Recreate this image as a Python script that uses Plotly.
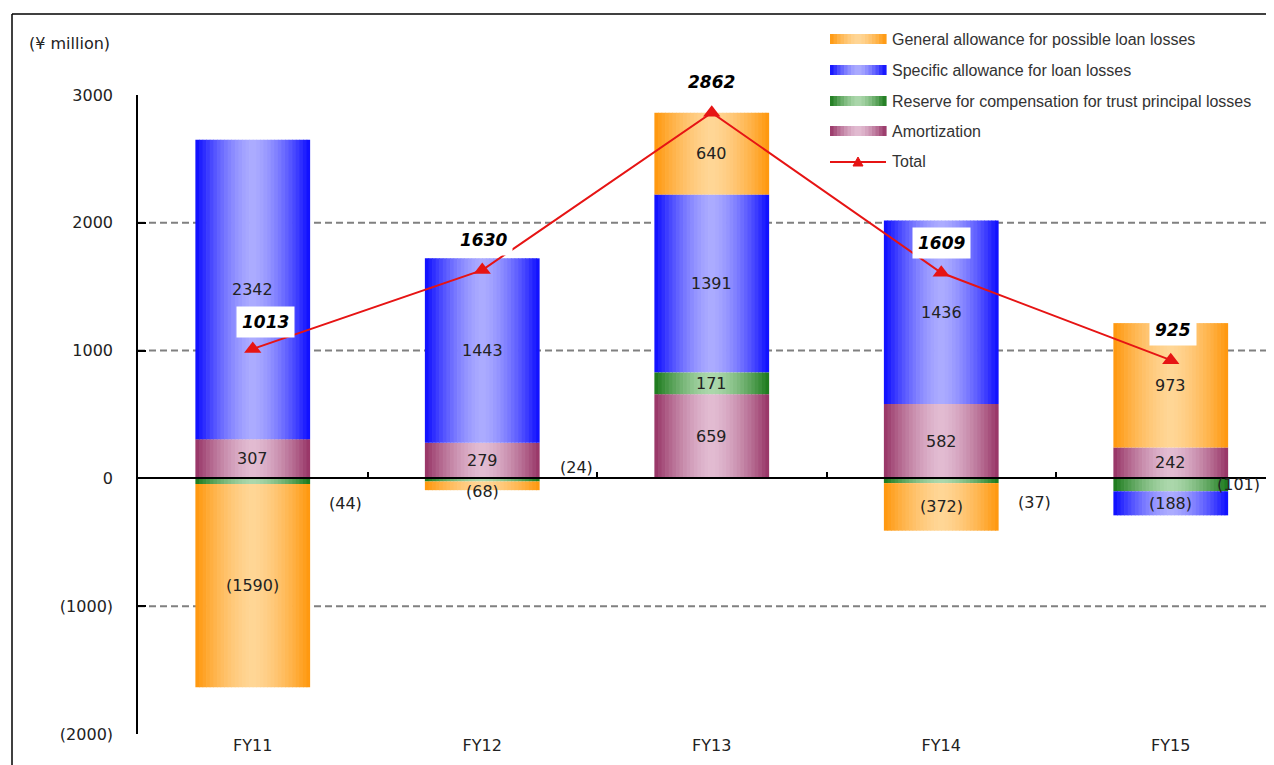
import plotly.graph_objects as go

# ---------------- data ----------------
categories = ["FY11", "FY12", "FY13", "FY14", "FY15"]
general = [-1590, -68, 640, -372, 973]
specific = [2342, 1443, 1391, 1436, -188]
reserve = [-44, -24, 171, -37, -101]
amortization = [307, 279, 659, 582, 242]
total = [1013, 1630, 2862, 1609, 925]

y_tickvals = [3000, 2000, 1000, 0, -1000, -2000]
y_ticktext = ["3000", "2000", "1000", "0", "(1000)", "(2000)"]
grid_values = [2000, 1000, -1000]

name_general = "General allowance for possible loan losses"
name_specific = "Specific allowance for loan losses"
name_reserve = "Reserve for compensation for trust principal losses"
name_amort = "Amortization"
name_total = "Total"
unit_label = "(¥ million)"

# ---------------- geometry helpers ----------------
OFF = 8                      # page body margin
W, H = 1274 - OFF, 765 - OFF
L, R, T, B = 138 - OFF, 0, 95 - OFF, 31
PW, PH = W - L - R, H - T - B
CAT_PX = 229.5


def px(x):  # screen x -> paper
    return (x - OFF - L) / PW


def py(y):  # screen y -> paper
    return (H - B - (y - OFF)) / PH


def fmt(v):
    return f"({abs(v)})" if v < 0 else f"{v}"


def lerp(c1, c2, t):
    return "rgb(%d,%d,%d)" % tuple(round(a + (b - a) * t) for a, b in zip(c1, c2))


FONT = "DejaVu Sans"
TXT = "#222222"
RED = "rgb(230,20,20)"

styles = {
    name_general: ((255, 150, 10), (255, 214, 150)),
    name_specific: ((10, 10, 255), (172, 172, 255)),
    name_reserve: ((25, 120, 25), (172, 216, 172)),
    name_amort: ((150, 50, 100), (226, 188, 210)),
}

stack_order = [
    (name_amort, amortization),
    (name_reserve, reserve),
    (name_specific, specific),
    (name_general, general),
]

# compute stacking bases
pos = [0] * len(categories)
neg = [0] * len(categories)
bases = {}
for name, vals in stack_order:
    b = []
    for i, v in enumerate(vals):
        if v >= 0:
            b.append(pos[i])
            pos[i] += v
        else:
            b.append(neg[i])
            neg[i] += v
    bases[name] = b

fig = go.Figure()

BAR_W = 0.5
N = 32
sw = BAR_W / N
for name, vals in stack_order:
    edge, center = styles[name]
    for k in range(N):
        u = (k + 0.5) / N
        t = abs(2 * u - 1) ** 1.5
        fig.add_trace(go.Bar(
            x=categories, y=vals, base=bases[name],
            offset=-BAR_W / 2 + k * sw,
            width=sw * 1.2 if k < N - 1 else sw,
            marker=dict(color=lerp(center, edge, t), line=dict(width=0)),
            showlegend=False, hoverinfo="skip",
        ))

# total line on overlaying axis (which also draws the zero line)
fig.add_trace(go.Scatter(
    x=categories, y=total, xaxis="x2", yaxis="y", name=name_total,
    mode="lines+markers",
    line=dict(color=RED, width=2),
    marker=dict(symbol="triangle-up", size=15, color=RED),
    showlegend=False, hoverinfo="skip",
))

annotations = []
shapes = []

# segment value labels
label_shift = {
    (name_reserve, 0): (93, -22),
    (name_reserve, 1): (94, 12),
    (name_reserve, 3): (93, -22),
    (name_reserve, 4): (68, 0),
    (name_general, 1): (0, -6),
}
for name, vals in stack_order:
    for i, v in enumerate(vals):
        xs, ys = label_shift.get((name, i), (0, 0))
        annotations.append(dict(
            x=categories[i], y=bases[name][i] + v / 2, xref="x", yref="y",
            text=fmt(v), showarrow=False, xshift=xs, yshift=ys,
            font=dict(family=FONT, size=16, color=TXT),
        ))

# total labels
total_shift = [(13, 27), (1, 30), (0, 31), (0, 30), (2, 30)]
for i, v in enumerate(total):
    xs, ys = total_shift[i]
    annotations.append(dict(
        x=categories[i], y=v, xref="x", yref="y", text=f"<b><i>{v}</i></b>",
        showarrow=False, xshift=xs, yshift=ys, bgcolor="white", borderpad=5,
        font=dict(family=FONT, size=17, color="black"),
    ))

# gridlines
for g in grid_values:
    shapes.append(dict(type="line", xref="paper", yref="y", x0=0, x1=1, y0=g, y1=g,
                       line=dict(color="rgb(128,128,128)", width=2, dash="7px,4px"),
                       layer="below"))

# unit label
annotations.append(dict(x=px(27), y=py(44), xref="paper", yref="paper", text=unit_label,
                        showarrow=False, xanchor="left", yanchor="middle",
                        font=dict(family=FONT, size=16, color=TXT)))

# custom legend
legend_items = [name_general, name_specific, name_reserve, name_amort]
row_y = [39, 70, 101, 131, 162]
SW_L, SW_R = 830, 886
NS = 16
LEG_FONT = dict(family="Liberation Sans", size=16, color="#333333")
for r, name in enumerate(legend_items):
    edge, center = styles[name]
    yc = row_y[r]
    step = (SW_R - SW_L) / NS
    for k in range(NS):
        u = (k + 0.5) / NS
        t = abs(2 * u - 1) ** 1.5
        shapes.append(dict(type="rect", xref="paper", yref="paper",
                           x0=px(SW_L + k * step), x1=px(SW_L + (k + 1) * step + 0.6),
                           y0=py(yc + 5), y1=py(yc - 5),
                           fillcolor=lerp(center, edge, t), line=dict(width=0)))
    annotations.append(dict(x=px(890), y=py(yc), xref="paper", yref="paper", text=name,
                            showarrow=False, xanchor="left", yanchor="middle",
                            font=LEG_FONT))
yc = row_y[4]
shapes.append(dict(type="line", xref="paper", yref="paper", x0=px(SW_L), x1=px(SW_R),
                   y0=py(yc), y1=py(yc), line=dict(color=RED, width=2)))
# legend triangle marker (path in pixel units around an anchor)
mx, my = px((SW_L + SW_R) / 2), py(yc)
shapes.append(dict(type="path", xref="paper", yref="paper",
                   xsizemode="pixel", ysizemode="pixel", xanchor=mx, yanchor=my,
                   path="M -5 -4 L 5 -4 L 0 5 Z",
                   fillcolor=RED, line=dict(color=RED, width=1)))
annotations.append(dict(x=px(890), y=py(yc), xref="paper", yref="paper", text=name_total,
                        showarrow=False, xanchor="left", yanchor="middle",
                        font=LEG_FONT))

# outer frame
shapes.append(dict(type="line", xref="paper", yref="paper", x0=px(12), x1=px(12),
                   y0=py(14), y1=py(765), line=dict(color="black", width=1.5)))
shapes.append(dict(type="line", xref="paper", yref="paper", x0=px(12), x1=px(1274),
                   y0=py(14), y1=py(14), line=dict(color="black", width=1.5)))

x_range = [-0.5, -0.5 + PW / CAT_PX]

fig.update_layout(
    width=W, height=H,
    margin=dict(l=L, r=R, t=T, b=B, pad=0),
    paper_bgcolor="white", plot_bgcolor="white",
    barmode="overlay",
    showlegend=False,
    xaxis=dict(type="category", categoryorder="array", categoryarray=categories,
               range=x_range, showgrid=False, showline=False, zeroline=False,
               ticks="", tickfont=dict(family=FONT, size=16, color=TXT)),
    xaxis2=dict(type="category", matches="x", overlaying="x", anchor="free",
                position=(0 - (-2000)) / 5000, showline=True, linecolor="black",
                linewidth=1.5, ticks="inside", tickson="boundaries", ticklen=6,
                tickcolor="black", tickwidth=1.5, showticklabels=False,
                showgrid=False, zeroline=False),
    yaxis=dict(range=[-2000, 3000], tickvals=y_tickvals, ticktext=y_ticktext,
               showgrid=False, zeroline=False, showline=True, linecolor="black",
               linewidth=1.5, ticks="inside", ticklen=8, tickcolor="black", tickwidth=1.5,
               ticklabelstandoff=20,
               tickfont=dict(family=FONT, size=16, color=TXT)),
    annotations=annotations,
    shapes=shapes,
)

fig.write_html("out.html")
